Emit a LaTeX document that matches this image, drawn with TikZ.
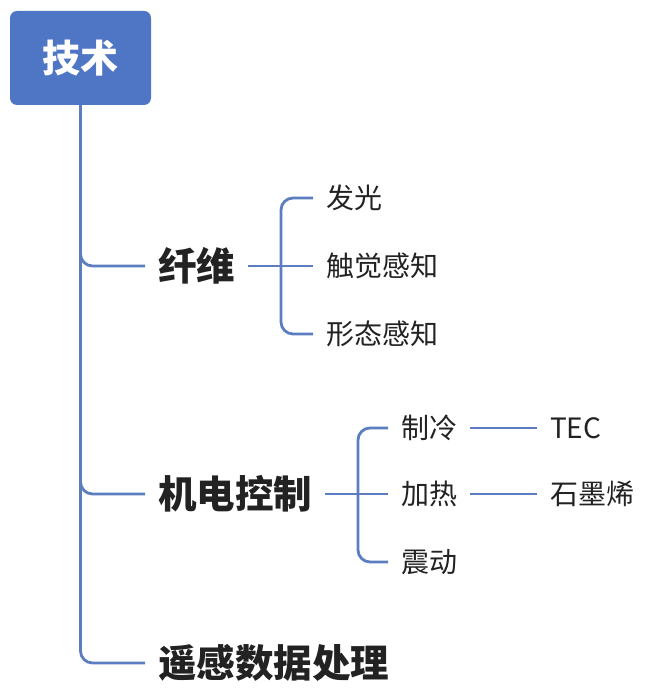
\documentclass[tikz,border=0pt]{standalone}
\usepackage{fontspec}
\newfontfamily\cjk{Noto Sans CJK SC}
\usetikzlibrary{positioning}
\definecolor{mmRoot}{RGB}{79,117,197}
\definecolor{mmLine}{RGB}{92,126,192}
\definecolor{mmText}{RGB}{34,34,34}

\begin{document}
\begin{tikzpicture}[x=1pt, y=-1pt,
    rootbox/.style={rectangle, fill=mmRoot, rounded corners=7pt, minimum width=141pt, minimum height=94pt,
        text=white, font=\cjk\bfseries\fontsize{38}{42}\selectfont},
    topic/.style={anchor=west, inner xsep=13pt, inner ysep=0pt, text=mmText,
        font=\cjk\bfseries\fontsize{38.5}{42}\selectfont},
    leaf/.style={anchor=west, inner xsep=13pt, inner ysep=0pt, text=mmText,
        font=\cjk\fontsize{28}{32}\selectfont},
    link/.style={draw=mmLine, line width=2.8pt, rounded corners=12pt}
]
\useasboundingbox (0,0) rectangle (646,692);

% Root
\node[rootbox] (root) at (80.5,58) {技术};

% Main topics
\node[topic] (fiber) at (145,266) {纤维};
\node[topic] (mech) at (145,494) {机电控制};
\node[topic] (remote) at (145,663) {遥感数据处理};

\foreach \t in {fiber, mech, remote}
    \draw[link] (root.south) |- (\t.west);

% Fiber leaves
\foreach \i/\w/\y in {1/发光/198, 2/触觉感知/266, 3/形态感知/334}
    \node[leaf] (fiber-\i) at (313,\y) {\w};
\coordinate (fiberfork) at (281,266);
\draw[link] (fiber.east) -- (fiber-2.west);
\draw[link] (fiber-1.west) -| (fiberfork) |- (fiber-3.west);

% Mech leaves
\foreach \i/\w/\y in {1/制冷/428, 2/加热/494, 3/震动/562}
    \node[leaf] (mech-\i) at (388,\y) {\w};
\coordinate (mechfork) at (358,494);
\draw[link] (mech.east) -- (mech-2.west);
\draw[link] (mech-1.west) -| (mechfork) |- (mech-3.west);

% Third level
\node[leaf] (tec) at (537,428) {TEC};
\node[leaf] (graphene) at (537,494) {石墨烯};
\draw[link] (mech-1.east) -- (tec.west);
\draw[link] (mech-2.east) -- (graphene.west);
\end{tikzpicture}
\end{document}
